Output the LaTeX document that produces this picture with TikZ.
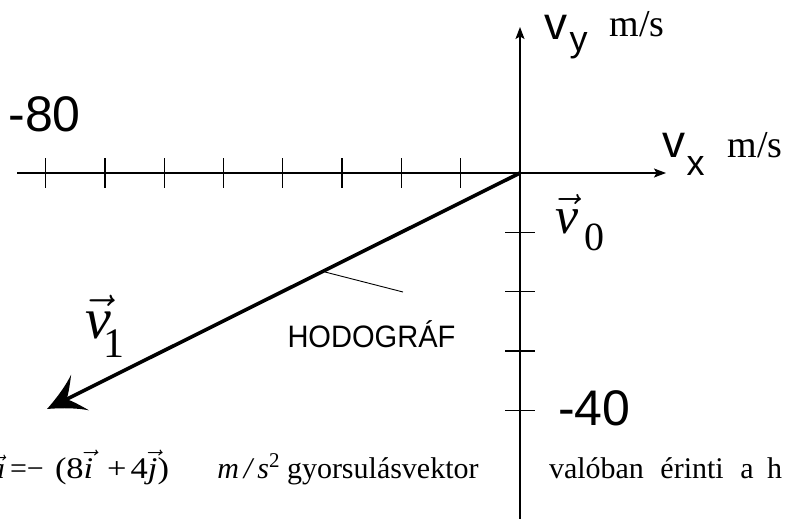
\RequirePackage{fix-cm}
\documentclass[tikz,border=0pt]{standalone}
\usepackage{fontspec}
\setmainfont{Liberation Serif}
\setsansfont{Liberation Sans}
\usetikzlibrary{arrows.meta}
\newcommand\wfit[2]{\resizebox{#1}{\height}{#2}}
\newcommand\vvec[1]{$\vec{\hbox{\itshape #1}}$}
\begin{document}
\begin{tikzpicture}[x=1pt,y=-1pt,
  axis/.style={line width=1.3pt,-{Stealth[length=12pt,width=9pt,inset=2.5pt]}},
  tickmark/.style={line width=1.3pt},
  hodo/.style={line width=3.6pt},
  leader/.style={line width=0.9pt},
  lab/.style={inner sep=0pt,outer sep=0pt},
  sanslab/.style={lab,font=\sffamily},
  bottomtext/.style={lab,anchor=base west,font=\fontsize{30}{30}\selectfont}]
\useasboundingbox (0,0) rectangle (785,519);
% axes
\coordinate (O) at (520,173);
\coordinate (ybot) at (520,519);
\coordinate (ytop) at (520,27);
\coordinate (xleft) at (17,173);
\coordinate (xright) at (666,173);
\draw[axis] (ybot) -- (ytop);
\draw[axis] (xleft) -- (xright);
\foreach \k in {1,...,8}
  \draw[tickmark] ({520-59.3*\k},158) -- ({520-59.3*\k},188);
\foreach \k in {1,...,4}
  \draw[tickmark] (505,{173+59.3*\k}) -- (535,{173+59.3*\k});
% hodograph
\coordinate (V1) at (47,409);
\draw[hodo,shorten >=20pt] (O) -- (V1);
\fill[shift={(V1)},rotate=206.57]
  (0,0) .. controls (-15,6) and (-28,13) .. (-37,20)
  .. controls (-31,11) and (-26,4) .. (-22,0)
  .. controls (-26,-4) and (-31,-11) .. (-37,-20)
  .. controls (-28,-13) and (-15,-6) .. (0,0) -- cycle;
% leader line and label
\coordinate (L1) at (325,272);
\node[sanslab,anchor=base,font=\fontsize{31}{31}\sffamily] (hodlab) at (371.5,347.3) {\wfit{168pt}{HODOGRÁF}};
\coordinate (L2) at (403,292);
\draw[leader] (L1) -- (L2);
% numbers
\node[sanslab,anchor=base west,font=\fontsize{50}{50}\sffamily] (m80) at (8.5,131.7) {-80};
\node[sanslab,anchor=base west,font=\fontsize{50}{50}\sffamily] (m40) at (558,425) {-40};
% axis labels
\node[sanslab,anchor=base west,font=\fontsize{46}{46}\sffamily] (vy) at (544.5,40) {v};
\node[sanslab,anchor=base west,font=\fontsize{36}{36}\sffamily] (vysub) at (569.5,52) {y};
\node[lab,anchor=base west,font=\fontsize{38}{38}\selectfont] (vyunit) at (609.5,37) {m/s};
\node[sanslab,anchor=base west,font=\fontsize{46}{46}\sffamily] (vx) at (662.5,157) {v};
\node[sanslab,anchor=base west,font=\fontsize{36}{36}\sffamily] (vxsub) at (686.5,175) {x};
\node[lab,anchor=base west,font=\fontsize{38}{38}\selectfont] (vxunit) at (727.5,157) {m/s};
% vector labels
\node[lab,anchor=base west,font=\fontsize{52}{52}\selectfont] (v0) at (555,233) {\vvec{v}};
\node[lab,anchor=base west,font=\fontsize{40}{40}\selectfont] (v0sub) at (584,250) {0};
\node[lab,anchor=base west,font=\fontsize{58}{58}\selectfont] (v1) at (85,338) {\vvec{v}};
\node[lab,anchor=base west,font=\fontsize{42}{42}\selectfont] (v1sub) at (103,357) {1};
% bottom text
\node[bottomtext,anchor=base east] (ta) at (5,478) {\vvec{a}};
\node[bottomtext] (teq) at (10,478) {=−};
\node[bottomtext] (tvec) at (55,478) {\wfit{114pt}{(8\vvec{i}\hspace{0.4em}+\hspace{0.12em}4\vvec{j})}};
\node[bottomtext,anchor=base east] (tunit) at (280,478) {\itshape m\,/\,s\textsuperscript{\upshape 2}};
\node[bottomtext] (tgy) at (287,478) {gyorsulásvektor};
\node[bottomtext] (tval) at (549,478) {valóban\hspace{0.55em}érinti\hspace{0.55em}a\hspace{0.45em}h};
\end{tikzpicture}
\end{document}
